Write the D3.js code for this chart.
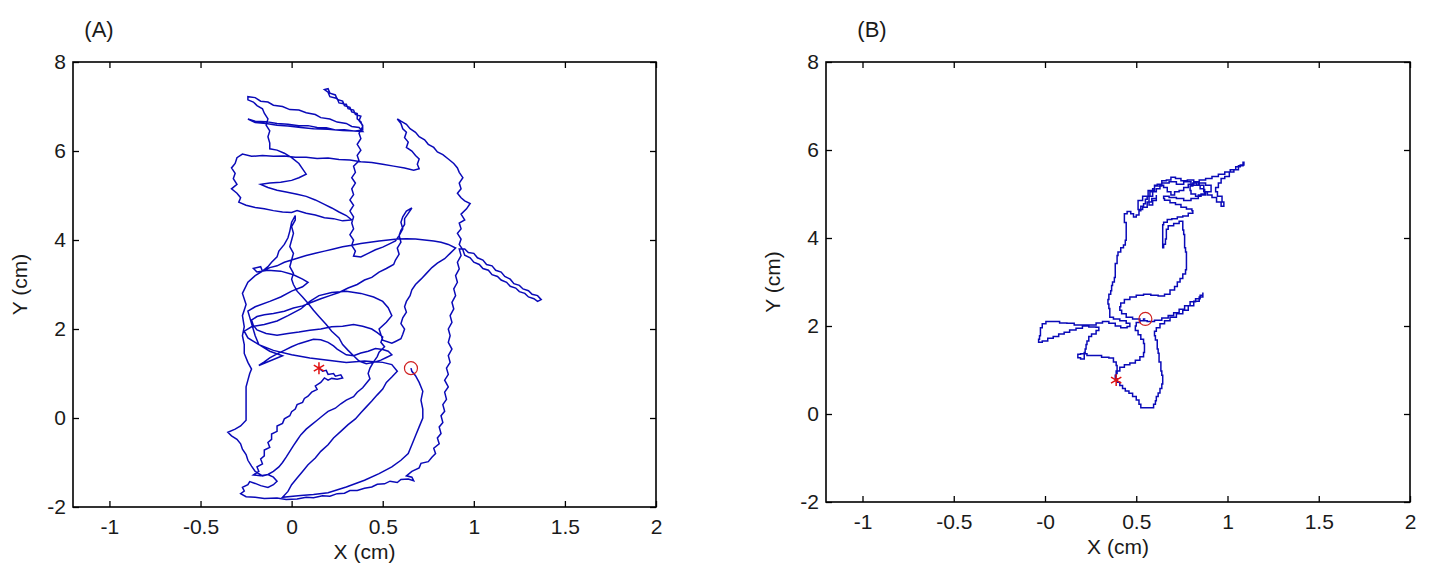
<!DOCTYPE html>
<html>
<head>
<meta charset="utf-8">
<script src="https://cdn.jsdelivr.net/npm/d3@7"></script>
<style>
  body { margin: 0; background: #fff; }
  text { font-family: "Liberation Sans", Arial, sans-serif; }
</style>
</head>
<body>
<div id="chart"></div>
<script>
// axis ticks shared by both panels
const xTicks = [-1, -0.5, 0, 0.5, 1, 1.5, 2];
const xTickLabelsA = ["-1", "-0.5", "0", "0.5", "1", "1.5", "2"];
const xTickLabelsB = ["-1", "-0.5", "-0", "0.5", "1", "1.5", "2"];
const yTicks = [-2, 0, 2, 4, 6, 8];

// trajectory A (x cm, y cm)
const trackA = [
  // start and knot below the star
  [0.15,1.12],[0.17,1.05],[0.19,1.07],[0.2,0.98],[0.23,1.0],[0.24,0.94],[0.27,0.97],[0.28,0.9],[0.25,0.87],[0.22,0.89],[0.2,0.85],[0.18,0.9],
  // diagonal down to the lower left
  [0.16,0.8],[0.13,0.72],[0.14,0.64],[0.11,0.58],[0.09,0.49],[0.07,0.44],[0.06,0.35],[0.03,0.3],[0.02,0.2],[0.0,0.14],[-0.01,0.05],[-0.04,-0.02],[-0.05,-0.12],[-0.08,-0.18],[-0.08,-0.3],[-0.11,-0.36],[-0.11,-0.48],[-0.13,-0.55],[-0.12,-0.66],[-0.15,-0.72],[-0.15,-0.85],[-0.17,-0.92],[-0.16,-1.03],[-0.19,-1.1],[-0.18,-1.2],[-0.21,-1.28],
  // small loop and bottom edge
  [-0.17,-1.3],[-0.13,-1.27],[-0.1,-1.33],[-0.08,-1.42],[-0.1,-1.5],[-0.13,-1.56],[-0.17,-1.52],[-0.2,-1.47],[-0.23,-1.43],[-0.24,-1.5],[-0.27,-1.56],[-0.26,-1.64],[-0.28,-1.7],[-0.25,-1.77],[-0.2,-1.78],[-0.15,-1.81],[-0.08,-1.8],[-0.03,-1.83],[0.03,-1.82],[0.08,-1.78],
  [0.12,-1.79],[0.17,-1.75],[0.21,-1.76],[0.25,-1.7],[0.29,-1.69],[0.32,-1.63],[0.36,-1.63],[0.4,-1.58],[0.44,-1.55],[0.47,-1.49],[0.51,-1.48],[0.54,-1.42],[0.58,-1.45],[0.6,-1.38],[0.64,-1.37],[0.67,-1.41],[0.66,-1.33],[0.63,-1.3],
  // outer right contour
  [0.66,-1.2],[0.7,-1.12],[0.71,-1.02],[0.75,-0.98],[0.77,-0.88],[0.79,-0.8],[0.78,-0.68],[0.81,-0.58],[0.8,-0.45],[0.82,-0.35],[0.81,-0.2],[0.83,-0.1],[0.82,0.05],[0.84,0.15],[0.83,0.3],[0.85,0.42],[0.84,0.58],[0.86,0.7],[0.84,0.85],[0.86,0.98],[0.85,1.12],[0.87,1.25],[0.86,1.4],[0.88,1.55],[0.86,1.7],[0.87,1.85],[0.86,2.0],[0.88,2.15],[0.87,2.3],[0.89,2.45],[0.88,2.6],[0.9,2.75],[0.89,2.9],[0.91,3.05],[0.9,3.2],[0.92,3.35],[0.91,3.5],[0.93,3.65],[0.92,3.8],
  // tail to the right
  [0.95,3.8],[0.97,3.72],[1.0,3.7],[1.02,3.6],[1.05,3.55],[1.07,3.45],[1.1,3.42],[1.12,3.32],[1.15,3.28],[1.17,3.18],[1.2,3.12],[1.22,3.02],[1.25,2.98],[1.27,2.9],[1.3,2.86],[1.32,2.78],[1.35,2.75],[1.37,2.66],[1.35,2.62],[1.33,2.68],[1.3,2.72],[1.28,2.8],[1.25,2.84],[1.23,2.92],[1.2,2.96],[1.18,3.05],[1.15,3.1],[1.13,3.18],[1.1,3.22],[1.08,3.32],[1.05,3.36],[1.03,3.45],[1.0,3.5],[0.98,3.6],[0.95,3.66],[0.94,3.78],[0.92,3.9],
  // right lobe up to its spike
  [0.93,4.02],[0.91,4.15],[0.93,4.25],[0.92,4.38],[0.95,4.45],[0.93,4.58],[0.96,4.7],[0.98,4.82],[0.95,4.88],[0.93,4.95],[0.91,5.05],[0.93,5.15],[0.92,5.28],[0.94,5.4],[0.92,5.52],[0.91,5.62],[0.89,5.72],[0.86,5.82],[0.83,5.92],[0.8,5.98],[0.78,6.08],[0.75,6.15],[0.73,6.25],[0.7,6.32],[0.68,6.42],[0.65,6.5],[0.63,6.6],[0.6,6.67],[0.58,6.72],
  [0.6,6.62],[0.61,6.5],[0.63,6.42],[0.62,6.3],[0.64,6.2],[0.63,6.08],[0.66,6.0],[0.68,5.9],[0.7,5.82],[0.69,5.7],[0.7,5.6],[0.67,5.57],
  // long line to the left near y = 5.8
  [0.62,5.62],[0.56,5.66],[0.5,5.7],[0.44,5.74],[0.38,5.76],[0.32,5.8],[0.26,5.81],[0.2,5.84],[0.14,5.83],[0.08,5.86],[0.02,5.86],[-0.04,5.89],[-0.1,5.88],[-0.16,5.9],[-0.22,5.88],[-0.27,5.93],
  // upper left loop
  [-0.3,5.85],[-0.31,5.72],[-0.33,5.62],[-0.31,5.5],[-0.32,5.38],[-0.3,5.25],[-0.33,5.15],[-0.3,5.05],[-0.28,4.95],[-0.29,4.85],[-0.25,4.78],[-0.2,4.73],[-0.15,4.7],[-0.1,4.66],[-0.05,4.63],[0.0,4.62],[0.03,4.66],
  [0.08,4.6],[0.13,4.56],[0.18,4.5],[0.23,4.48],[0.28,4.43],[0.33,4.45],[0.3,4.55],[0.26,4.63],[0.22,4.72],[0.18,4.8],[0.13,4.9],[0.08,4.98],[0.03,5.03],[-0.03,5.08],[-0.08,5.12],[-0.13,5.18],[-0.17,5.25],[-0.12,5.28],[-0.06,5.3],[0.0,5.34],[0.04,5.4],[0.08,5.48],[0.06,5.6],[0.04,5.72],[0.0,5.85],[-0.04,5.95],[-0.08,6.02],[-0.12,6.05],
  // top left spike
  [-0.12,6.18],[-0.13,6.32],[-0.12,6.45],[-0.14,6.58],[-0.13,6.72],[-0.15,6.85],[-0.16,6.95],[-0.19,7.02],[-0.21,7.1],[-0.24,7.15],[-0.24,7.22],[-0.2,7.2],[-0.17,7.12],[-0.13,7.1],[-0.1,7.03],[-0.05,7.0],[-0.01,6.93],[0.04,6.92],[0.08,6.86],[0.13,6.82],[0.16,6.75],[0.21,6.72],[0.25,6.65],[0.3,6.62],[0.33,6.55],[0.37,6.53],[0.39,6.44],
  [0.34,6.45],[0.29,6.48],[0.24,6.47],[0.19,6.52],[0.14,6.53],[0.09,6.57],[0.04,6.57],[-0.02,6.6],[-0.08,6.62],[-0.14,6.66],[-0.2,6.67],[-0.24,6.72],[-0.2,6.64],[-0.14,6.62],[-0.08,6.58],[-0.02,6.56],[0.05,6.53],[0.12,6.5],[0.2,6.49],[0.28,6.46],[0.35,6.45],[0.39,6.47],
  // top middle spike
  [0.39,6.58],[0.37,6.68],[0.38,6.78],[0.35,6.82],[0.34,6.92],[0.31,6.95],[0.3,7.05],[0.26,7.08],[0.25,7.18],[0.21,7.22],[0.2,7.32],[0.18,7.38],[0.2,7.4],[0.21,7.3],[0.24,7.26],[0.25,7.16],[0.28,7.12],[0.29,7.02],[0.32,6.98],[0.33,6.88],[0.36,6.84],[0.36,6.72],[0.38,6.66],[0.39,6.55],
  // vertical near x = 0.35
  [0.37,6.4],[0.38,6.28],[0.36,6.15],[0.38,6.02],[0.36,5.9],[0.37,5.78],[0.34,5.66],[0.35,5.52],[0.33,5.4],[0.35,5.28],[0.33,5.15],[0.34,5.02],[0.32,4.9],[0.34,4.78],[0.32,4.65],[0.34,4.52],[0.33,4.38],[0.34,4.25],[0.32,4.12],[0.34,4.0],[0.33,3.88],[0.35,3.75],[0.34,3.64],[0.38,3.62],
  [0.42,3.7],[0.46,3.78],[0.5,3.84],[0.54,3.92],[0.57,3.98],[0.59,4.1],[0.6,4.22],[0.62,4.35],[0.62,4.48],[0.64,4.6],[0.66,4.72],[0.63,4.65],[0.61,4.52],[0.6,4.4],[0.61,4.25],[0.59,4.1],[0.6,3.95],[0.58,3.82],[0.59,3.68],[0.57,3.55],[0.56,3.45],
  // middle web
  [0.52,3.36],[0.48,3.28],[0.44,3.16],[0.4,3.1],[0.36,3.0],[0.31,2.92],[0.26,2.82],[0.21,2.75],[0.16,2.68],[0.11,2.6],[0.06,2.52],[0.01,2.47],[-0.04,2.4],[-0.1,2.35],[-0.15,2.32],[-0.19,2.28],
  [-0.22,2.2],[-0.21,2.08],[-0.19,1.98],[-0.14,1.9],[-0.08,1.86],[-0.02,1.9],[0.04,1.93],[0.1,1.97],[0.16,2.0],[0.22,2.05],[0.28,2.06],[0.34,2.1],[0.39,2.06],[0.44,2.0],[0.47,1.92],[0.5,1.82],[0.49,1.7],[0.51,1.6],[0.48,1.48],[0.47,1.38],[0.45,1.26],
  [0.43,1.12],[0.42,1.0],[0.43,0.88],[0.41,0.78],[0.39,0.68],[0.36,0.58],[0.34,0.48],[0.3,0.4],[0.27,0.32],[0.24,0.22],[0.2,0.15],[0.17,0.05],[0.14,-0.05],[0.11,-0.15],[0.08,-0.25],[0.05,-0.38],[0.03,-0.5],[0.01,-0.62],[-0.01,-0.75],[-0.03,-0.88],[-0.05,-1.0],[-0.07,-1.1],[-0.1,-1.2],[-0.13,-1.27],[-0.16,-1.3],
  // left side going up
  [-0.2,-1.2],[-0.22,-1.08],[-0.24,-0.95],[-0.25,-0.82],[-0.27,-0.7],[-0.28,-0.58],[-0.3,-0.48],[-0.33,-0.4],[-0.35,-0.32],[-0.31,-0.25],[-0.28,-0.18],[-0.25,-0.05],[-0.25,0.1],[-0.25,0.25],[-0.25,0.4],[-0.25,0.55],[-0.25,0.7],[-0.24,0.85],[-0.23,1.0],[-0.22,1.1],
  [-0.24,1.25],[-0.26,1.45],[-0.26,1.65],[-0.27,1.85],[-0.26,2.05],[-0.27,2.3],[-0.25,2.55],[-0.27,2.8],[-0.24,3.05],[-0.2,3.2],[-0.16,3.3],[-0.17,3.4],[-0.21,3.36],[-0.19,3.28],[-0.13,3.32],[-0.06,3.3],[0.01,3.22],[0.06,3.12],[0.09,3.05],[0.06,2.95],
  [0.0,2.85],[-0.06,2.72],[-0.12,2.62],[-0.2,2.5],[-0.24,2.4],
  [-0.2,1.85],[-0.18,1.65],[-0.12,1.5],[-0.05,1.4],
  [-0.18,1.18],[-0.15,1.26],[-0.12,1.35],[-0.08,1.44],[-0.04,1.52],[0.0,1.6],[0.04,1.67],[0.08,1.72],[0.12,1.77],[0.16,1.76],[0.2,1.7],[0.23,1.62],[0.25,1.55],
  [0.3,1.42],[0.34,1.4],[0.38,1.46],[0.42,1.5],[0.46,1.56],[0.5,1.54],[0.53,1.5],[0.55,1.42],[0.52,1.36],[0.49,1.3],[0.45,1.25],[0.41,1.22],
  // centre up to the arc
  [0.37,1.28],[0.34,1.4],[0.31,1.52],[0.28,1.65],[0.26,1.8],[0.22,1.95],[0.19,2.1],[0.15,2.28],[0.12,2.42],[0.09,2.58],[0.06,2.72],[0.03,2.85],[0.01,3.0],[0.0,3.12],[0.01,3.25],[-0.01,3.4],[0.0,3.55],[0.01,3.7],[-0.01,3.85],[0.0,4.0],[0.01,4.15],[0.0,4.3],[0.02,4.45],[0.02,4.55],
  [0.0,4.4],[-0.01,4.2],[-0.02,4.05],[-0.04,3.9],[-0.07,3.75],[-0.08,3.62],[-0.11,3.5],[-0.13,3.4],
  [-0.16,3.3],[-0.12,3.38],[-0.08,3.42],[-0.04,3.5],[0.0,3.55],[0.04,3.6],[0.08,3.65],[0.13,3.7],[0.18,3.75],[0.23,3.8],[0.28,3.85],[0.33,3.88],[0.38,3.92],[0.43,3.95],[0.48,3.98],[0.53,4.0],[0.58,4.02],[0.63,4.03],[0.68,4.02],[0.73,4.0],[0.78,3.98],[0.82,3.95],[0.86,3.9],[0.9,3.82],
  [0.87,3.7],[0.84,3.58],[0.8,3.48],[0.77,3.38],[0.74,3.25],[0.71,3.12],[0.68,3.0],[0.66,2.88],[0.65,2.75],[0.63,2.62],[0.62,2.5],[0.63,2.38],[0.61,2.25],[0.6,2.12],[0.62,2.0],[0.61,1.88],[0.6,1.78],[0.57,1.72],[0.55,1.68],
  [0.5,1.75],[0.48,2.0],[0.52,2.15],[0.55,2.3],[0.53,2.48],[0.5,2.62],[0.45,2.72],[0.38,2.8],[0.3,2.85],[0.22,2.82],[0.15,2.75],[0.1,2.62],[0.05,2.45],[-0.02,2.3],[-0.08,2.18],[-0.15,2.1],[-0.22,2.05],[-0.26,1.95],
  [-0.24,1.8],[-0.18,1.65],[-0.1,1.52],[0.0,1.42],[0.1,1.35],[0.2,1.3],[0.3,1.25],[0.4,1.28],[0.5,1.25],[0.55,1.2],
  // diagonal through the lower oval
  [0.58,1.05],[0.55,0.92],[0.52,0.8],[0.5,0.65],[0.47,0.52],[0.44,0.38],[0.41,0.25],[0.38,0.12],[0.35,-0.02],[0.31,-0.15],[0.27,-0.3],[0.23,-0.45],[0.2,-0.6],[0.16,-0.75],[0.13,-0.9],[0.09,-1.05],[0.06,-1.2],[0.03,-1.35],[0.0,-1.5],[-0.02,-1.65],[-0.05,-1.78],
  [0.05,-1.74],[0.12,-1.72],[0.2,-1.68],[0.3,-1.55],[0.4,-1.4],[0.48,-1.25],[0.55,-1.1],[0.6,-0.95],[0.64,-0.8],[0.66,-0.6],[0.68,-0.4],[0.7,-0.2],[0.72,0.0],[0.72,0.2],[0.71,0.4],[0.72,0.6],[0.7,0.8],[0.68,0.95],[0.66,1.05],[0.655,1.12]
];

// trajectory B
const trackB = [
  [0.39,0.77],[0.38,0.85],[0.4,0.92],[0.39,1.02],[0.4,1.1],[0.38,1.18],[0.37,1.27],[0.33,1.29],[0.29,1.33],[0.25,1.33],[0.21,1.37],[0.18,1.36],[0.18,1.28],[0.21,1.25],[0.22,1.3],[0.21,1.4],[0.23,1.48],[0.22,1.58],[0.24,1.66],[0.24,1.76],[0.27,1.82],[0.29,1.9],[0.3,1.97],
  // left wing
  [0.26,1.98],[0.22,2.02],[0.18,2.02],[0.14,2.06],[0.1,2.07],[0.06,2.1],[0.02,2.1],[-0.01,2.05],[-0.02,1.96],[-0.03,1.88],[-0.02,1.78],[-0.04,1.7],[-0.03,1.63],[0.0,1.66],[0.03,1.72],[0.06,1.76],[0.09,1.82],[0.12,1.86],[0.15,1.91],[0.19,1.95],[0.22,2.0],[0.26,2.02],[0.3,2.07],[0.33,2.1],[0.37,2.06],[0.4,2.0],[0.43,1.96],[0.47,1.99],[0.46,2.06],[0.43,2.12],[0.39,2.16],[0.36,2.2],
  // left edge of the upper part
  [0.35,2.3],[0.36,2.4],[0.34,2.5],[0.35,2.6],[0.35,2.72],[0.37,2.8],[0.36,2.92],[0.38,3.0],[0.38,3.1],[0.39,3.2],[0.38,3.3],[0.39,3.42],[0.4,3.5],[0.39,3.6],[0.41,3.68],[0.42,3.78],[0.44,3.84],[0.44,3.95],[0.45,4.05],[0.44,4.15],[0.45,4.25],[0.44,4.35],[0.43,4.45],[0.44,4.55],[0.46,4.6],[0.48,4.55],[0.49,4.48],[0.51,4.52],[0.52,4.62],[0.53,4.72],[0.55,4.78],[0.55,4.88],[0.57,4.95],[0.58,5.05],[0.6,5.12],[0.6,5.2],[0.63,5.22],[0.65,5.3],[0.68,5.32],[0.7,5.38],[0.73,5.35],[0.76,5.3],[0.8,5.32],[0.83,5.28],[0.86,5.32],[0.9,5.35],[0.93,5.4],[0.97,5.45],[1.0,5.5],[1.03,5.55],[1.06,5.62],[1.08,5.66],[1.1,5.72],
  // dense upper knot
  [1.07,5.64],[1.05,5.55],[1.02,5.5],[1.0,5.4],[0.97,5.35],[0.96,5.25],[0.94,5.15],[0.93,5.05],[0.96,4.95],[0.98,4.82],[0.98,4.72],[0.95,4.82],[0.93,4.92],[0.9,4.98],[0.88,5.05],[0.86,5.12],[0.84,5.2],[0.82,5.25],[0.8,5.18],[0.79,5.08],[0.81,5.0],[0.84,4.95],[0.87,5.0],[0.88,5.1],[0.86,5.2],[0.83,5.27],[0.8,5.22],[0.77,5.15],[0.75,5.08],[0.72,5.05],[0.7,4.98],[0.68,5.05],[0.66,5.15],[0.64,5.2],[0.62,5.12],[0.6,5.05],[0.58,4.95],[0.56,4.85],[0.58,4.75],[0.6,4.85],[0.62,4.98],
  [0.6,4.9],[0.57,4.82],[0.55,4.7],[0.52,4.65],[0.5,4.75],[0.52,4.85],[0.55,4.95],[0.58,5.08],[0.62,5.18],[0.66,5.25],[0.7,5.28],[0.74,5.22],[0.78,5.28],[0.82,5.2],[0.86,5.25],[0.9,5.2],[0.92,5.12],[0.9,5.05],[0.86,4.98],[0.82,4.9],[0.78,4.85],[0.74,4.9],[0.7,4.92],[0.66,4.95],[0.64,4.9],
  [0.67,4.86],[0.7,4.8],[0.73,4.76],[0.76,4.7],[0.79,4.66],[0.82,4.62],[0.8,4.56],[0.77,4.5],[0.74,4.48],[0.71,4.44],[0.68,4.42],[0.66,4.36],[0.64,4.3],[0.65,4.2],[0.64,4.1],[0.65,4.0],[0.64,3.9],[0.65,3.8],[0.64,3.78],[0.66,3.86],[0.66,3.98],[0.67,4.1],[0.66,4.2],[0.69,4.28],[0.72,4.33],[0.75,4.38],[0.76,4.28],[0.75,4.18],[0.77,4.08],[0.76,3.98],[0.77,3.88],[0.76,3.78],[0.78,3.68],[0.77,3.58],[0.78,3.48],[0.77,3.38],[0.78,3.28],[0.76,3.18],[0.75,3.08],[0.73,3.0],[0.72,2.9],[0.7,2.82],
  // around the end circle and the right wing
  [0.67,2.72],[0.64,2.68],[0.6,2.7],[0.56,2.72],[0.52,2.7],[0.48,2.66],[0.45,2.6],[0.42,2.52],[0.41,2.44],[0.41,2.36],[0.43,2.28],[0.46,2.2],[0.5,2.16],[0.54,2.12],[0.58,2.1],[0.62,2.13],[0.66,2.18],[0.69,2.24],[0.72,2.3],[0.75,2.38],[0.78,2.46],[0.81,2.55],[0.84,2.62],[0.86,2.7],[0.87,2.76],[0.86,2.66],[0.83,2.56],[0.8,2.46],[0.77,2.36],[0.74,2.28],[0.7,2.2],[0.67,2.12],[0.64,2.05],[0.62,1.96],[0.6,1.88],[0.6,1.78],
  // lower lobe
  [0.61,1.68],[0.62,1.58],[0.61,1.48],[0.63,1.38],[0.62,1.28],[0.63,1.18],[0.64,1.08],[0.63,0.98],[0.65,0.88],[0.64,0.78],[0.65,0.68],[0.63,0.58],[0.63,0.48],[0.61,0.4],[0.61,0.3],[0.6,0.22],[0.59,0.14],[0.56,0.14],[0.53,0.14],[0.52,0.22],[0.51,0.32],[0.49,0.4],[0.47,0.47],[0.45,0.52],[0.43,0.58],[0.42,0.65],[0.4,0.72],[0.39,0.8],[0.38,0.88],[0.4,0.98],[0.42,1.06],[0.45,1.12],[0.48,1.16],[0.51,1.22],[0.53,1.3],[0.55,1.4],[0.54,1.5],[0.55,1.6],[0.53,1.7],[0.52,1.8],[0.5,1.9],[0.49,2.0],[0.51,2.08],[0.53,2.12],[0.55,2.16]
];

// start (*) and end (o) markers
const startA = [0.15, 1.12];
const endA = [0.655, 1.12];
const startB = [0.39, 0.77];
const endB = [0.55, 2.16];

const width = 1431;
const height = 568;

const svg = d3.select("#chart")
    .append("svg")
    .attr("width", width)
    .attr("height", height);

function drawPanel(p) {
    const x = d3.scaleLinear().domain([-1.2, 2]).range([p.left, p.right]);
    const y = d3.scaleLinear().domain([-2, 8]).range([p.bottom, p.top]);

    const line = d3.line()
        .curve(p.curve)
        .x(d => x(d[0]))
        .y(d => y(d[1]));

    svg.append("path")
        .datum(p.track)
        .attr("d", line)
        .attr("fill", "none")
        .attr("stroke", "#0a0ab8")
        .attr("stroke-width", 1.5)
        .attr("stroke-linejoin", "miter");

    // markers
    svg.append("path")
        .attr("d", d3.symbol(d3.symbolAsterisk, 100)())
        .attr("transform", `translate(${x(p.start[0])}, ${y(p.start[1])})`)
        .attr("fill", "none")
        .attr("stroke", "#e01010")
        .attr("stroke-width", 1.5);

    svg.append("circle")
        .attr("cx", x(p.end[0]))
        .attr("cy", y(p.end[1]))
        .attr("r", 6.5)
        .attr("fill", "none")
        .attr("stroke", "#d02020")
        .attr("stroke-width", 1.2);

    // axes, ticks pointing inward on all four sides
    const styleAxis = g => {
        g.select(".domain").remove();
        g.selectAll(".tick line").attr("stroke", "#000").attr("stroke-width", 1.3);
        g.selectAll("text")
            .attr("fill", "#1a1a1a")
            .style("font-size", "21px")
            .style("font-family", "'Liberation Sans', Arial, sans-serif");
    };

    svg.append("g")
        .attr("transform", `translate(0, ${p.bottom})`)
        .call(d3.axisBottom(x).tickValues(xTicks).tickFormat((d, i) => p.xLabels[i]).tickSize(-6).tickPadding(12))
        .call(styleAxis);

    svg.append("g")
        .attr("transform", `translate(0, ${p.top})`)
        .call(d3.axisTop(x).tickValues(xTicks).tickFormat("").tickSize(-6))
        .call(styleAxis);

    svg.append("g")
        .attr("transform", `translate(${p.left}, 0)`)
        .call(d3.axisLeft(y).tickValues(yTicks).tickFormat(d => d < 0 ? "-" + Math.abs(d) : d).tickSize(-6).tickPadding(7))
        .call(styleAxis);

    svg.append("g")
        .attr("transform", `translate(${p.right}, 0)`)
        .call(d3.axisRight(y).tickValues(yTicks).tickFormat("").tickSize(-6))
        .call(styleAxis);

    svg.append("rect")
        .attr("x", p.left)
        .attr("y", p.top)
        .attr("width", p.right - p.left)
        .attr("height", p.bottom - p.top)
        .attr("fill", "none")
        .attr("stroke", "#000")
        .attr("stroke-width", 1.6);

    // labels
    svg.append("text")
        .attr("x", (p.left + p.right) / 2)
        .attr("y", p.bottom + 52)
        .attr("text-anchor", "middle")
        .style("font-size", "21px")
        .attr("fill", "#1a1a1a")
        .text("X (cm)");

    svg.append("text")
        .attr("transform", `translate(${p.left - 46}, ${(p.top + p.bottom) / 2}) rotate(-90)`)
        .attr("text-anchor", "middle")
        .style("font-size", "21px")
        .attr("fill", "#1a1a1a")
        .text("Y (cm)");

    svg.append("text")
        .attr("x", p.titleX)
        .attr("y", 37)
        .attr("text-anchor", "middle")
        .style("font-size", "22px")
        .attr("fill", "#1a1a1a")
        .text(p.title);
}

// panel A reads as a fine jagged line, panel B as a coarse grid walk
drawPanel({ left: 73, right: 656, top: 62, bottom: 507, track: trackA, start: startA, end: endA,
            xLabels: xTickLabelsA, title: "(A)", titleX: 99, curve: d3.curveLinear });
drawPanel({ left: 826, right: 1410, top: 62, bottom: 502, track: trackB, start: startB, end: endB,
            xLabels: xTickLabelsB, title: "(B)", titleX: 872, curve: d3.curveStep });
</script>
</body>
</html>
